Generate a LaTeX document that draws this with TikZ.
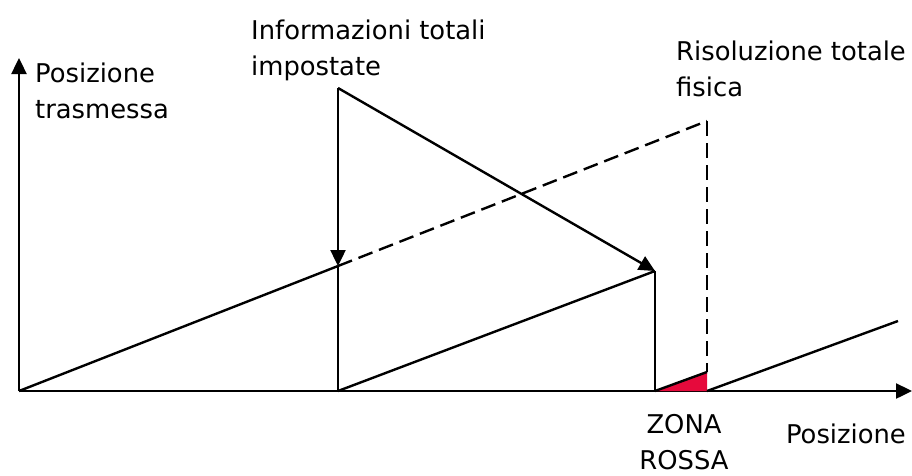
\documentclass[tikz,border=0pt]{standalone}
\usepackage{fontspec}
\setmainfont{DejaVu Sans}
\usetikzlibrary{arrows.meta}
\definecolor{zona}{RGB}{230,10,60}
\begin{document}
\begin{tikzpicture}[x=1pt,y=-1pt,
  ln/.style={line width=2.4pt},
  arr/.style={ln,-{Triangle[length=16pt,width=15pt]}},
  dsh/.style={ln,dash pattern=on 15pt off 7pt},
  lbl/.style={font=\fontsize{25.8}{36}\selectfont,inner sep=0pt,align=left}]
\useasboundingbox (0,0) rectangle (912,475);
% coordinates
\coordinate (O) at (19,391);
\coordinate (Ytip) at (19,58);
\coordinate (Xtip) at (912,391);
\coordinate (A) at (338,266);
\coordinate (Atop) at (338,88);
\coordinate (Abase) at (338,391);
\coordinate (B) at (655,271);
\coordinate (Bbase) at (655,391);
\coordinate (R) at (707,121);
\coordinate (Rlow) at (707,372);
\coordinate (Rbase) at (707,391);
\coordinate (E) at (898,321);
% axes
\draw[arr] (O) -- (Ytip);
\draw[arr] (O) -- (Xtip);
% red zone
\fill[zona] (Bbase) -- (Rlow) -- (Rbase) -- cycle;
% ramps
\draw[ln] (O) -- (A);
\draw[ln] (Abase) -- (B);
\draw[ln] (Bbase) -- (Rlow);
\draw[ln] (Rbase) -- (E);
% verticals
\draw[arr] (Atop) -- (A);
\draw[ln] (A) -- (Abase);
\draw[ln] (B) -- (Bbase);
% dashed
\draw[dsh] (A) -- (R);
\draw[dsh] (R) -- (Rlow);
% diagonal arrow
\draw[arr] (Atop) -- (B);
% labels (anchor at baseline of last line)
\node[lbl,anchor=base west] (l1) at (35,118) {Posizione\\trasmessa};
\node[lbl,anchor=base west] (l2) at (251,75) {Informazioni totali\\impostate};
\node[lbl,anchor=base west] (l3) at (676,96) {Risoluzione totale\\fisica};
\node[lbl,anchor=base,align=center] (l4) at (684,469) {ZONA\\ROSSA};
\node[lbl,anchor=base east] (l5) at (906,443) {Posizione};
\end{tikzpicture}
\end{document}
